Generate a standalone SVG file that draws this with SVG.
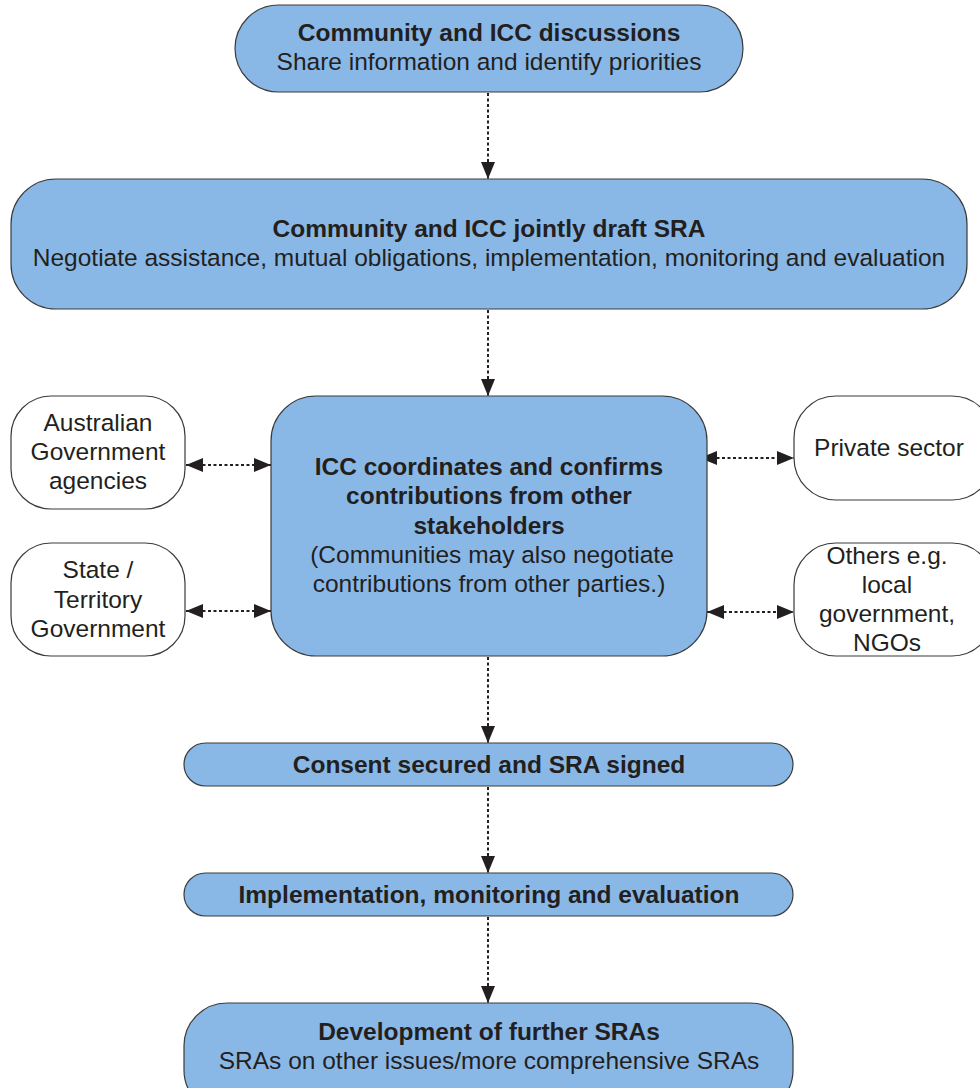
<svg xmlns="http://www.w3.org/2000/svg" width="980" height="1088" viewBox="0 0 980 1088">
<style>
.b{fill:#8ab8e6;stroke:#3a3a3a;stroke-width:1.2}
.w{fill:#ffffff;stroke:#3a3a3a;stroke-width:1.2}
text{font-family:"Liberation Sans",Arial,sans-serif;font-size:24.5px;fill:#231f20;text-anchor:middle}
.t{font-weight:bold}
.c{stroke:#231f20;stroke-width:2;stroke-dasharray:3,2.5;fill:none}
</style>
<defs>
<marker id="ah" viewBox="0 0 17 14" refX="17" refY="7" markerWidth="17" markerHeight="14" markerUnits="userSpaceOnUse" orient="auto-start-reverse">
<path d="M0,0 L17,7 L0,14 Z" fill="#231f20"/>
</marker>
</defs>
<rect width="980" height="1088" fill="#ffffff"/>
<g id="connectors">
<line class="c" x1="488" y1="93" x2="488" y2="179" marker-end="url(#ah)"/>
<line class="c" x1="488" y1="310" x2="488" y2="396" marker-end="url(#ah)"/>
<line class="c" x1="488" y1="657" x2="488" y2="743" marker-end="url(#ah)"/>
<line class="c" x1="488" y1="787" x2="488" y2="873" marker-end="url(#ah)"/>
<line class="c" x1="488" y1="917" x2="488" y2="1003" marker-end="url(#ah)"/>
<line class="c" x1="186" y1="465" x2="271" y2="465" marker-start="url(#ah)" marker-end="url(#ah)"/>
<line class="c" x1="186" y1="611" x2="271" y2="611" marker-start="url(#ah)" marker-end="url(#ah)"/>
<line class="c" x1="700" y1="458" x2="794" y2="458" marker-start="url(#ah)" marker-end="url(#ah)"/>
<line class="c" x1="707" y1="612" x2="794" y2="612" marker-start="url(#ah)" marker-end="url(#ah)"/>
</g>
<g id="n1">
<rect class="b" x="235" y="5" width="508" height="87" rx="43.5"/>
<text class="t" x="489" y="41">Community and ICC discussions</text>
<text x="489" y="70">Share information and identify priorities</text>
</g>
<g id="n2">
<rect class="b" x="11" y="179" width="956" height="130" rx="45"/>
<text class="t" x="489" y="237">Community and ICC jointly draft SRA</text>
<text x="489" y="266">Negotiate assistance, mutual obligations, implementation, monitoring and evaluation</text>
</g>
<g id="n3">
<rect class="b" x="271" y="396" width="436" height="260" rx="45"/>
<text class="t" x="489" y="475">ICC coordinates and confirms</text>
<text class="t" x="489" y="504">contributions from other</text>
<text class="t" x="489" y="534">stakeholders</text>
<text x="492" y="563">(Communities may also negotiate</text>
<text x="489" y="592">contributions from other parties.)</text>
</g>
<g id="n4">
<rect class="w" x="11" y="396" width="174" height="113" rx="40"/>
<text x="98" y="431">Australian</text>
<text x="98" y="460">Government</text>
<text x="98" y="489">agencies</text>
</g>
<g id="n5">
<rect class="w" x="11" y="543" width="174" height="113" rx="40"/>
<text x="98" y="578">State /</text>
<text x="98" y="608">Territory</text>
<text x="98" y="637">Government</text>
</g>
<g id="n6">
<rect class="w" x="794" y="396" width="200" height="104" rx="42"/>
<text x="889" y="456">Private sector</text>
</g>
<g id="n7">
<rect class="w" x="794" y="543" width="200" height="113" rx="42"/>
<text x="887" y="564">Others e.g.</text>
<text x="887" y="593">local</text>
<text x="887" y="622">government,</text>
<text x="887" y="651">NGOs</text>
</g>
<g id="n8">
<rect class="b" x="184" y="743" width="609" height="43" rx="21.5"/>
<text class="t" x="489" y="773">Consent secured and SRA signed</text>
</g>
<g id="n9">
<rect class="b" x="184" y="873" width="609" height="43" rx="21.5"/>
<text class="t" x="489" y="903">Implementation, monitoring and evaluation</text>
</g>
<g id="n10">
<rect class="b" x="184" y="1003" width="609" height="110" rx="43"/>
<text class="t" x="489" y="1040">Development of further SRAs</text>
<text x="489" y="1069">SRAs on other issues/more comprehensive SRAs</text>
</g>
</svg>
